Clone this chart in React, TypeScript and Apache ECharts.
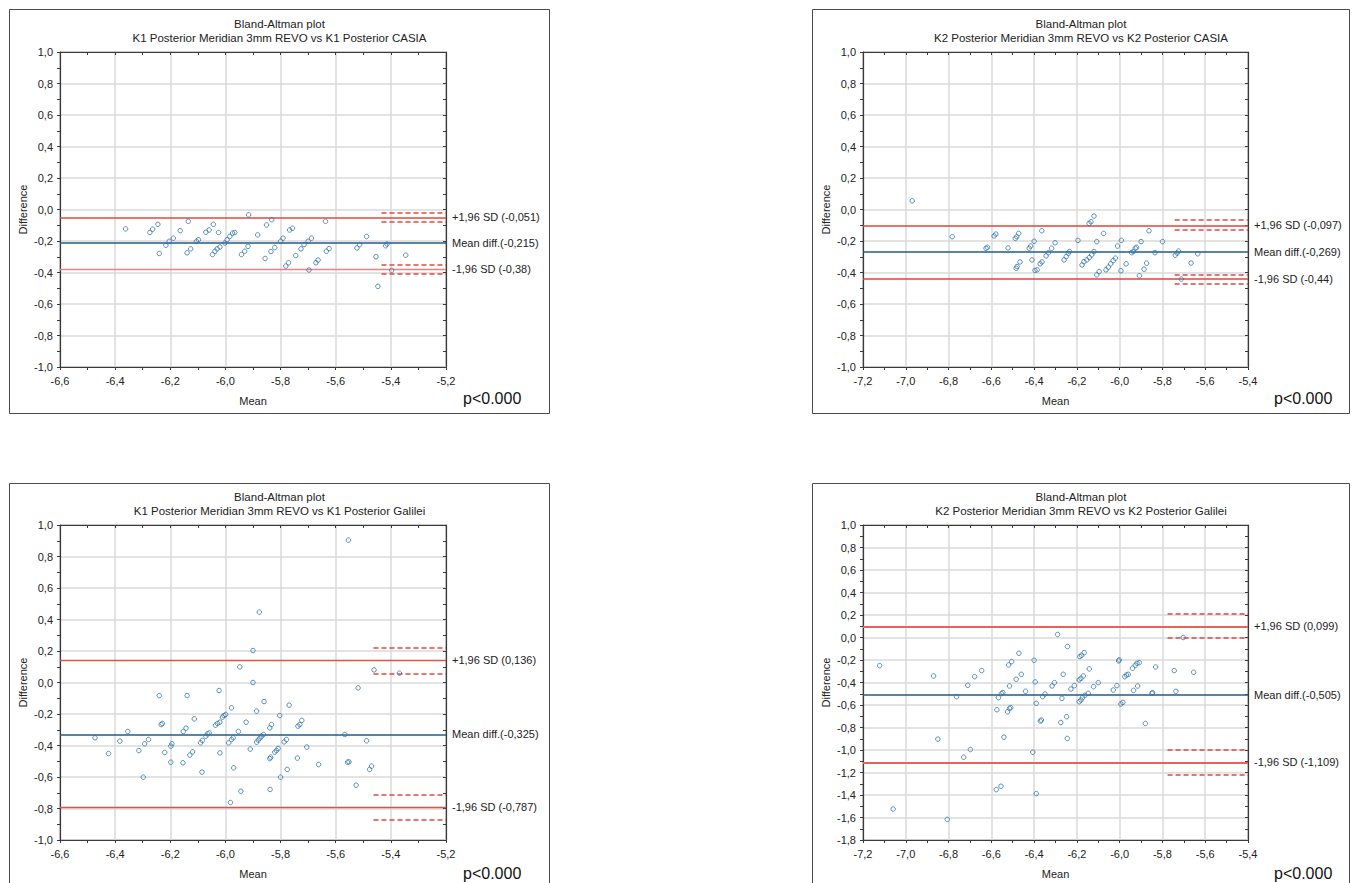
import React, { useEffect, useRef } from 'react';
import * as echarts from 'echarts';

const FONT = "'Liberation Sans', Arial, Helvetica, sans-serif";

// ---------- data ----------
const k1CasiaPoints: [number, number][] = [
  [-6.362, -0.123],
  [-6.274, -0.146], [-6.264, -0.125], [-6.245, -0.094],
  [-6.240, -0.279],
  [-6.216, -0.227], [-6.204, -0.202], [-6.189, -0.182],
  [-6.164, -0.134], [-6.135, -0.075],
  [-6.139, -0.275], [-6.126, -0.250],
  [-6.105, -0.202], [-6.098, -0.192],
  [-6.071, -0.144], [-6.059, -0.130], [-6.044, -0.094],
  [-6.047, -0.286], [-6.038, -0.265], [-6.030, -0.250], [-6.020, -0.238],
  [-6.025, -0.146],
  [-6.002, -0.213], [-5.994, -0.192], [-5.984, -0.171], [-5.974, -0.150], [-5.966, -0.146],
  [-5.916, -0.034],
  [-5.942, -0.286], [-5.930, -0.265], [-5.918, -0.234],
  [-5.883, -0.161], [-5.856, -0.311],
  [-5.851, -0.098], [-5.832, -0.065],
  [-5.835, -0.267], [-5.821, -0.242],
  [-5.800, -0.202], [-5.791, -0.182], [-5.767, -0.130], [-5.757, -0.119],
  [-5.781, -0.359], [-5.771, -0.338],
  [-5.745, -0.292], [-5.726, -0.250], [-5.715, -0.223], [-5.700, -0.202], [-5.688, -0.182],
  [-5.697, -0.384],
  [-5.672, -0.338], [-5.664, -0.321],
  [-5.634, -0.265], [-5.624, -0.248],
  [-5.637, -0.075],
  [-5.523, -0.244], [-5.513, -0.223],
  [-5.488, -0.171], [-5.454, -0.300], [-5.447, -0.488],
  [-5.419, -0.230], [-5.414, -0.219],
  [-5.397, -0.386], [-5.346, -0.290],
];

const k2CasiaPoints: [number, number][] = [
  [-6.970, 0.055], [-6.783, -0.173],
  [-6.625, -0.246], [-6.618, -0.240],
  [-6.587, -0.168], [-6.579, -0.156],
  [-6.522, -0.244],
  [-6.484, -0.373], [-6.480, -0.362],
  [-6.488, -0.183], [-6.481, -0.173], [-6.472, -0.152],
  [-6.466, -0.333],
  [-6.423, -0.246], [-6.416, -0.232], [-6.400, -0.202],
  [-6.410, -0.320],
  [-6.396, -0.387], [-6.386, -0.383],
  [-6.372, -0.345], [-6.363, -0.333],
  [-6.364, -0.135],
  [-6.344, -0.295], [-6.333, -0.274], [-6.318, -0.246], [-6.302, -0.211],
  [-6.260, -0.320], [-6.250, -0.299], [-6.240, -0.278], [-6.235, -0.267],
  [-6.195, -0.196],
  [-6.176, -0.352], [-6.167, -0.331], [-6.154, -0.320], [-6.142, -0.305], [-6.131, -0.288], [-6.120, -0.267], [-6.107, -0.204],
  [-6.143, -0.088], [-6.134, -0.078], [-6.120, -0.042],
  [-6.107, -0.415], [-6.096, -0.394],
  [-6.075, -0.152],
  [-6.064, -0.383], [-6.053, -0.366], [-6.042, -0.345], [-6.030, -0.324], [-6.020, -0.309], [-6.010, -0.232],
  [-5.994, -0.389], [-5.992, -0.196], [-5.970, -0.345],
  [-5.944, -0.274], [-5.936, -0.267], [-5.927, -0.246], [-5.921, -0.240],
  [-5.908, -0.421], [-5.900, -0.204],
  [-5.886, -0.379], [-5.874, -0.341],
  [-5.863, -0.135], [-5.835, -0.274], [-5.800, -0.204],
  [-5.740, -0.290], [-5.731, -0.277], [-5.725, -0.264],
  [-5.712, -0.442], [-5.666, -0.340], [-5.635, -0.281],
];

const k1GalileiPoints: [number, number][] = [
  [-6.473, -0.351], [-6.424, -0.451], [-6.383, -0.372], [-6.354, -0.311],
  [-6.314, -0.432], [-6.298, -0.601],
  [-6.293, -0.389], [-6.279, -0.362],
  [-6.240, -0.083],
  [-6.233, -0.267], [-6.229, -0.260],
  [-6.220, -0.444], [-6.198, -0.506],
  [-6.198, -0.404], [-6.194, -0.389],
  [-6.154, -0.510],
  [-6.153, -0.311], [-6.143, -0.290],
  [-6.139, -0.083],
  [-6.129, -0.461], [-6.119, -0.440],
  [-6.113, -0.231],
  [-6.090, -0.383], [-6.084, -0.368],
  [-6.085, -0.569],
  [-6.071, -0.341], [-6.065, -0.326], [-6.059, -0.320],
  [-6.036, -0.271], [-6.029, -0.260], [-6.020, -0.252],
  [-6.023, -0.051], [-6.020, -0.447],
  [-6.011, -0.220], [-6.005, -0.210], [-5.999, -0.203],
  [-5.988, -0.383], [-5.978, -0.362], [-5.972, -0.351],
  [-5.978, -0.161], [-5.982, -0.762], [-5.970, -0.542],
  [-5.953, -0.311], [-5.948, 0.099], [-5.944, -0.690],
  [-5.925, -0.252], [-5.910, -0.423],
  [-5.900, 0.203], [-5.900, 0.000],
  [-5.887, -0.182],
  [-5.887, -0.379], [-5.881, -0.366], [-5.875, -0.353], [-5.869, -0.341], [-5.862, -0.330],
  [-5.877, 0.447], [-5.860, -0.121],
  [-5.839, -0.483], [-5.836, -0.474],
  [-5.838, -0.679],
  [-5.839, -0.288], [-5.833, -0.267],
  [-5.821, -0.442], [-5.815, -0.432], [-5.809, -0.419],
  [-5.803, -0.210], [-5.800, -0.601],
  [-5.787, -0.377], [-5.779, -0.362],
  [-5.776, -0.552], [-5.769, -0.144],
  [-5.739, -0.480],
  [-5.737, -0.277], [-5.730, -0.267], [-5.723, -0.241],
  [-5.705, -0.410], [-5.662, -0.521],
  [-5.567, -0.330], [-5.554, 0.904],
  [-5.557, -0.506], [-5.552, -0.504],
  [-5.526, -0.652], [-5.519, -0.034],
  [-5.488, -0.370],
  [-5.477, -0.552], [-5.470, -0.531],
  [-5.461, 0.080], [-5.369, 0.059],
];

const k2GalileiPoints: [number, number][] = [
  [-7.122, -0.250], [-7.059, -1.525],
  [-6.870, -0.342], [-6.850, -0.903], [-6.806, -1.617],
  [-6.763, -0.526], [-6.729, -1.064], [-6.710, -0.425], [-6.698, -0.996],
  [-6.678, -0.348], [-6.645, -0.294],
  [-6.577, -1.352], [-6.574, -0.642], [-6.567, -0.535], [-6.555, -1.322],
  [-6.553, -0.499], [-6.546, -0.490],
  [-6.541, -0.886],
  [-6.524, -0.660], [-6.515, -0.630], [-6.509, -0.624],
  [-6.519, -0.244], [-6.505, -0.214],
  [-6.515, -0.431], [-6.484, -0.371], [-6.471, -0.140], [-6.460, -0.327], [-6.440, -0.478],
  [-6.406, -1.019], [-6.400, -0.202], [-6.395, -0.395], [-6.390, -0.585], [-6.390, -1.388],
  [-6.371, -0.743], [-6.366, -0.734],
  [-6.360, -0.526], [-6.349, -0.502],
  [-6.316, -0.431], [-6.305, -0.401],
  [-6.290, 0.027],
  [-6.275, -0.755], [-6.248, -0.704],
  [-6.270, -0.541], [-6.264, -0.327], [-6.244, -0.080], [-6.245, -0.897],
  [-6.228, -0.458], [-6.212, -0.428],
  [-6.189, -0.571], [-6.181, -0.556], [-6.174, -0.535], [-6.163, -0.514], [-6.147, -0.496],
  [-6.189, -0.377], [-6.181, -0.363], [-6.170, -0.342],
  [-6.186, -0.169], [-6.178, -0.158], [-6.166, -0.134],
  [-6.142, -0.279],
  [-6.122, -0.437], [-6.100, -0.401],
  [-6.030, -0.467], [-6.013, -0.428],
  [-6.005, -0.208], [-6.002, -0.199],
  [-5.994, -0.591], [-5.985, -0.577],
  [-5.976, -0.348], [-5.968, -0.333], [-5.960, -0.327],
  [-5.935, -0.470], [-5.916, -0.431],
  [-5.940, -0.273], [-5.927, -0.247], [-5.919, -0.229], [-5.908, -0.223],
  [-5.880, -0.764],
  [-5.849, -0.496], [-5.846, -0.490],
  [-5.832, -0.262], [-5.745, -0.294], [-5.737, -0.478], [-5.703, 0.000], [-5.654, -0.309],
];

// [+1.96 SD, mean diff, -1.96 SD]
const k1CasiaLimits = [-0.051, -0.215, -0.38];
const k2CasiaLimits = [-0.097, -0.269, -0.44];
const k1GalileiLimits = [0.136, -0.325, -0.787];
const k2GalileiLimits = [0.099, -0.505, -1.109];

// confidence bands of the limits: [upper hi, upper lo, lower hi, lower lo]
const k1CasiaCI = [-0.021, -0.08, -0.351, -0.41];
const k2CasiaCI = [-0.065, -0.129, -0.415, -0.472];
const k1GalileiCI = [0.222, 0.055, -0.711, -0.87];
const k2GalileiCI = [0.208, -0.006, -1.0, -1.218];

const ciStarts = [-5.434, -5.743, -5.463, -5.776];

const panelTitles = [
  'K1 Posterior Meridian 3mm REVO vs K1 Posterior CASIA',
  'K2 Posterior Meridian 3mm REVO vs K2 Posterior CASIA',
  'K1 Posterior Meridian 3mm REVO vs K1 Posterior Galilei',
  'K2 Posterior Meridian 3mm REVO vs K2 Posterior Galilei',
];
const xRanges = [[-6.6, -5.2], [-7.2, -5.4], [-6.6, -5.2], [-7.2, -5.4]];
const yRanges = [[-1.0, 1.0], [-1.0, 1.0], [-1.0, 1.0], [-1.8, 1.0]];
const pValueText = 'p<0.000';

const allPoints = [k1CasiaPoints, k2CasiaPoints, k1GalileiPoints, k2GalileiPoints];
const allLimits = [k1CasiaLimits, k2CasiaLimits, k1GalileiLimits, k2GalileiLimits];
const allCI = [k1CasiaCI, k2CasiaCI, k1GalileiCI, k2GalileiCI];

// ---------- layout / style ----------
const grids = [
  { left: 60, top: 52, width: 386, height: 315 },
  { left: 863, top: 52, width: 385, height: 315 },
  { left: 60, top: 525, width: 386, height: 315 },
  { left: 863, top: 525, width: 385, height: 315 },
];
const frames = [
  { x: 9.5, y: 9.5, w: 540, h: 404 },
  { x: 812.5, y: 9.5, w: 537, h: 404 },
  { x: 9.5, y: 483.5, w: 540, h: 404 },
  { x: 812.5, y: 483.5, w: 537, h: 404 },
];
const pPos = [
  { x: 463, y: 398 },
  { x: 1274, y: 398 },
  { x: 463, y: 873 },
  { x: 1274, y: 873 },
];
// per panel: [upper colour, upper width, lower colour, lower width]
const limitStyles: [string, number, string, number][] = [
  ['#e5473f', 1.5, '#ee8080', 1.4],
  ['#e0443c', 1.5, '#e0443c', 1.5],
  ['#e5504a', 1.4, '#e5504a', 1.4],
  ['#e8625c', 2.2, '#e8625c', 2.2],
];

const RED = '#e5473f';
const BLUE = '#1f5d8c';
const DOT = '#2f74aa';
const AXIS = '#3a3a3a';

const comma = (v: number) => String(v).replace('.', ',');
const tickFmt = (v: number) => (Math.abs(v) < 1e-9 ? '0,0' : v.toFixed(1).replace('.', ','));

function buildOption() {
  const xAxis: any[] = [];
  const yAxis: any[] = [];
  const series: any[] = [];
  const graphic: any[] = [];

  grids.forEach((g, i) => {
    const axisCommon = {
      type: 'value',
      gridIndex: i,
      interval: 0.2,
      axisLine: { show: true, onZero: false, lineStyle: { color: AXIS, width: 1.2 } },
      axisTick: { show: true, length: 3, lineStyle: { color: AXIS } },
      minorTick: { show: true, splitNumber: 2, length: 3, lineStyle: { color: AXIS } },
      splitLine: { show: true, lineStyle: { color: '#dadada', width: 1.5 } },
      axisLabel: { fontSize: 11, color: '#222', fontFamily: FONT, formatter: tickFmt },
      nameLocation: 'middle',
      nameTextStyle: { fontSize: 11, color: '#222', fontFamily: FONT },
    };
    xAxis.push({
      ...axisCommon,
      min: xRanges[i][0],
      max: xRanges[i][1],
      name: 'Mean',
      nameGap: 28,
      axisLabel: { ...axisCommon.axisLabel, margin: 8 },
    });
    yAxis.push({
      ...axisCommon,
      min: yRanges[i][0],
      max: yRanges[i][1],
      name: 'Difference',
      nameGap: 32,
      axisLabel: { ...axisCommon.axisLabel, margin: 7 },
    });

    const lim = allLimits[i];
    const ci = allCI[i];
    const st = limitStyles[i];
    const xmax = xRanges[i][1];
    const labelBase = { show: true, position: 'end', distance: 6, fontSize: 11, color: '#222', fontFamily: FONT };
    const dashed = (v: number) => [
      { coord: [ciStarts[i], v], lineStyle: { color: RED, type: [5, 3], width: 1.5 }, label: { show: false } },
      { coord: [xmax, v] },
    ];
    series.push({
      type: 'scatter',
      xAxisIndex: i,
      yAxisIndex: i,
      data: allPoints[i],
      symbol: 'circle',
      symbolSize: 4.5,
      itemStyle: { color: 'rgba(255,255,255,0)', borderColor: DOT, borderWidth: 1 },
      z: 5,
      markLine: {
        silent: true,
        symbol: ['none', 'none'],
        animation: false,
        z: 4,
        data: [
          { yAxis: lim[0], lineStyle: { color: st[0], width: st[1], type: 'solid' }, label: { ...labelBase, formatter: `+1,96 SD (${comma(lim[0])})` } },
          { yAxis: lim[1], lineStyle: { color: BLUE, width: 1.5, type: 'solid' }, label: { ...labelBase, formatter: `Mean diff.(${comma(lim[1])})` } },
          { yAxis: lim[2], lineStyle: { color: st[2], width: st[3], type: 'solid' }, label: { ...labelBase, formatter: `-1,96 SD (${comma(lim[2])})` } },
          dashed(ci[0]),
          dashed(ci[1]),
          dashed(ci[2]),
          dashed(ci[3]),
        ],
      },
    });

    const f = frames[i];
    graphic.push({
      type: 'rect',
      shape: { x: f.x, y: f.y, width: f.w, height: f.h },
      style: { fill: 'none', stroke: '#4a4a4a', lineWidth: 1 },
      silent: true,
    });
    const cx = f.x + f.w / 2;
    graphic.push({
      type: 'text',
      x: cx,
      y: g.top - 28,
      style: { text: 'Bland-Altman plot', font: `11.5px ${FONT}`, fill: '#222', align: 'center', verticalAlign: 'middle' },
      silent: true,
    });
    graphic.push({
      type: 'text',
      x: cx,
      y: g.top - 14,
      style: { text: panelTitles[i], font: `11.5px ${FONT}`, fill: '#222', align: 'center', verticalAlign: 'middle' },
      silent: true,
    });
    graphic.push({
      type: 'text',
      x: pPos[i].x,
      y: pPos[i].y,
      style: { text: pValueText, font: `16px ${FONT}`, fill: '#111', align: 'left', verticalAlign: 'middle' },
      silent: true,
    });
  });

  // frame axes (top / right) carrying inward ticks
  grids.forEach((_g, i) => {
    const frameCommon = {
      type: 'value',
      gridIndex: i,
      interval: 0.2,
      axisLine: { show: true, onZero: false, lineStyle: { color: AXIS, width: 1.2 } },
      axisTick: { show: true, inside: true, length: 3, lineStyle: { color: AXIS } },
      minorTick: { show: true, splitNumber: 2, length: 3, lineStyle: { color: AXIS } },
      splitLine: { show: false },
      axisLabel: { show: false },
    };
    xAxis.push({ ...frameCommon, position: 'top', min: xRanges[i][0], max: xRanges[i][1] });
    yAxis.push({ ...frameCommon, position: 'right', min: yRanges[i][0], max: yRanges[i][1] });
  });

  return {
    animation: false,
    backgroundColor: '#ffffff',
    grid: grids.map((g) => ({ ...g, show: true, borderColor: AXIS, borderWidth: 1, backgroundColor: 'transparent' })),
    xAxis,
    yAxis,
    series,
    graphic,
  };
}

export default function App() {
  const ref = useRef<HTMLDivElement>(null);
  useEffect(() => {
    if (!ref.current) return;
    const chart = echarts.init(ref.current, undefined, { renderer: 'svg' });
    chart.setOption(buildOption() as any);
    return () => chart.dispose();
  }, []);
  return (
    <div
      ref={ref}
      style={{ position: 'fixed', left: 0, top: 0, width: 1354, height: 883, background: '#fff' }}
    />
  );
}
